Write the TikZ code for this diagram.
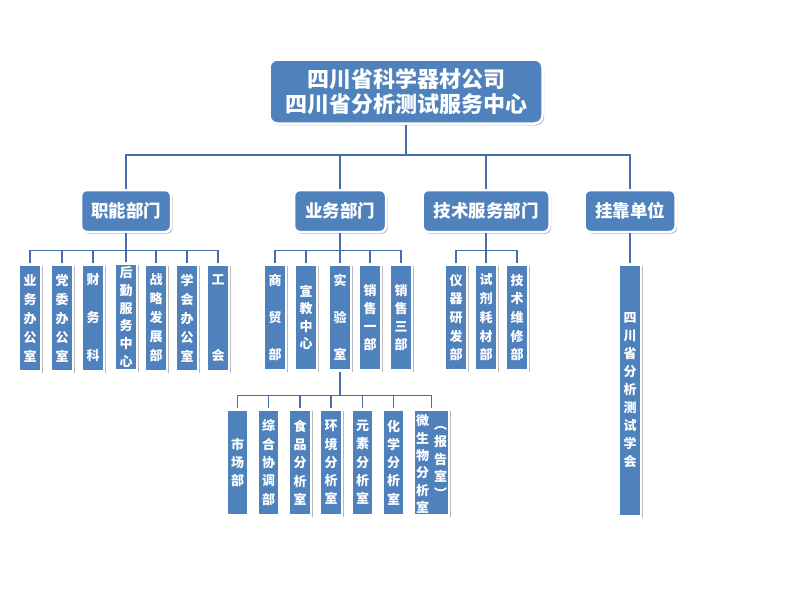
\documentclass[tikz,border=0pt]{standalone}
\usepackage{fontspec}
\setmainfont{Noto Sans CJK SC}
\usetikzlibrary{shadows}
\definecolor{boxblue}{RGB}{79,129,189}
\definecolor{lineblue}{RGB}{66,108,170}
\begin{document}
\begin{tikzpicture}[x=1pt,y=-1pt,
  shad/.style={drop shadow={shadow xshift=1.6pt,shadow yshift=-1.8pt,opacity=0.5,fill=black!55}},
  rbox/.style={rectangle,rounded corners=6pt,fill=boxblue,draw=white,line width=2.5pt,text=white,inner sep=0pt,shad},
  colbox/.style={rectangle,fill=boxblue,draw=white,line width=2.5pt,text=white,inner sep=0pt,minimum width=22pt,shad},
  vcol/.style={colbox,font=\fontsize{13}{#1}\selectfont\bfseries,align=center},
  vtext/.style={font=\fontsize{13}{#1}\selectfont\bfseries,align=center,text=white,inner sep=0pt},
  lvl2/.style={rbox,minimum height=42pt,font=\fontsize{17.5}{20}\selectfont\bfseries},
  conn/.style={draw=lineblue,line width=1.4pt}
]
\useasboundingbox (0,0) rectangle (800,600);
\fill[white] (0,0) rectangle (800,600);

% top
\node[rbox,rounded corners=8pt,minimum width=273pt,minimum height=64pt,
      font=\fontsize{22}{25}\selectfont\bfseries,align=center] (top) at (406,91.5)
      {四川省科学器材公司\\四川省分析测试服务中心};

% level 2
\node[lvl2,minimum width=90pt] (zn) at (126,211) {职能部门};
\node[lvl2,minimum width=92pt] (yw) at (340,211) {业务部门};
\node[lvl2,minimum width=127pt] (js) at (486,211) {技术服务部门};
\node[lvl2,minimum width=91pt] (gk) at (630,211) {挂靠单位};

\coordinate (hb) at (406,155);
\draw[conn] (top.south) -- (hb);
\draw[conn] (zn.north) |- (hb) -| (gk.north);
\draw[conn] (yw.north) -- (yw.north |- hb);
\draw[conn] (js.north) -- (js.north |- hb);

% 职能部门 children
\node[vcol=19,minimum height=107pt] (z1) at (30,318) {业\\务\\办\\公\\室};
\node[vcol=19,minimum height=107pt] (z2) at (62,318) {党\\委\\办\\公\\室};
\node[vcol=38,minimum height=107pt] (z3) at (93,318) {财\\务\\科};
\node[vcol=17.8,minimum height=107pt] (z4) at (126,317) {后\\勤\\服\\务\\中\\心};
\node[vcol=19,minimum height=107pt] (z5) at (156,318) {战\\略\\发\\展\\部};
\node[vcol=19,minimum height=107pt] (z6) at (187,318) {学\\会\\办\\公\\室};
\node[vcol=76,minimum height=107pt] (z7) at (218,318) {工\\会};
\draw[conn] (zn.south) -- ([yshift=13pt]zn.south |- z4.north);
\draw[conn] (z1.north) -- ++(0,-13) -| (z7.north);
\foreach \n in {z2,z3,z4,z5,z6} \draw[conn] (\n.north) -- ++(0,-13);

% 业务部门 children
\node[vcol=37,minimum height=106pt] (y1) at (275,317.5) {商\\贸\\部};
\node[vcol=17.5,minimum height=106pt] (y2) at (306,317.5) {宣\\教\\中\\心};
\node[vcol=37,minimum height=106pt] (y3) at (340,317.5) {实\\验\\室};
\node[vcol=17.7,minimum height=106pt] (y4) at (370,317.5) {销\\售\\一\\部};
\node[vcol=17.7,minimum height=106pt] (y5) at (401,317.5) {销\\售\\三\\部};
\draw[conn] (yw.south) -- ([yshift=13pt]yw.south |- y3.north);
\draw[conn] (y1.north) -- ++(0,-13) -| (y5.north);
\foreach \n in {y2,y3,y4} \draw[conn] (\n.north) -- ++(0,-13);

% 技术服务部门 children
\node[vcol=18.7,minimum height=106pt] (t1) at (456,317.5) {仪\\器\\研\\发\\部};
\node[vcol=18.7,minimum height=106pt] (t2) at (486,317.5) {试\\剂\\耗\\材\\部};
\node[vcol=18.7,minimum height=106pt] (t3) at (517,317.5) {技\\术\\维\\修\\部};
\draw[conn] (js.south) -- ([yshift=13pt]js.south |- t2.north);
\draw[conn] (t1.north) -- ++(0,-13) -| (t3.north);
\draw[conn] (t2.north) -- ++(0,-13);

% 挂靠单位 child
\node[vcol=18,minimum height=252pt] (g1) at (630,390.5) {四\\川\\省\\分\\析\\测\\试\\学\\会};
\draw[conn] (gk.south) -- (g1.north);

% 实验室 children
\node[vcol=18.3,minimum height=106pt] (s1) at (237.5,462.5) {市\\场\\部};
\node[vcol=18.3,minimum height=106pt] (s2) at (268.5,462.5) {综\\合\\协\\调\\部};
\node[vcol=18.3,minimum height=106pt] (s3) at (300,462.5) {食\\品\\分\\析\\室};
\node[vcol=18.3,minimum height=106pt] (s4) at (331,462.5) {环\\境\\分\\析\\室};
\node[vcol=18.3,minimum height=106pt] (s5) at (362.5,462.5) {元\\素\\分\\析\\室};
\node[vcol=18.3,minimum height=106pt] (s6) at (393.5,462.5) {化\\学\\分\\析\\室};
\node[colbox,minimum width=35pt,minimum height=106pt] (s7) at (431.5,462.5) {};
\node[vtext=17.3] (s7a) at ([xshift=-9pt,yshift=-1.5pt]s7.center) {微\\生\\物\\分\\析\\室};
\node[vtext=17.3] (s7b) at ([xshift=9pt]s7.center) {︵\\报\\告\\室\\︶};
\draw[conn] (y3.south) -- ([yshift=13pt]y3.south |- s4.north);
\draw[conn] (s1.north) -- ++(0,-13) -| (s7.north);
\foreach \n in {s2,s3,s4,s5,s6} \draw[conn] (\n.north) -- ++(0,-13);
\end{tikzpicture}
\end{document}
